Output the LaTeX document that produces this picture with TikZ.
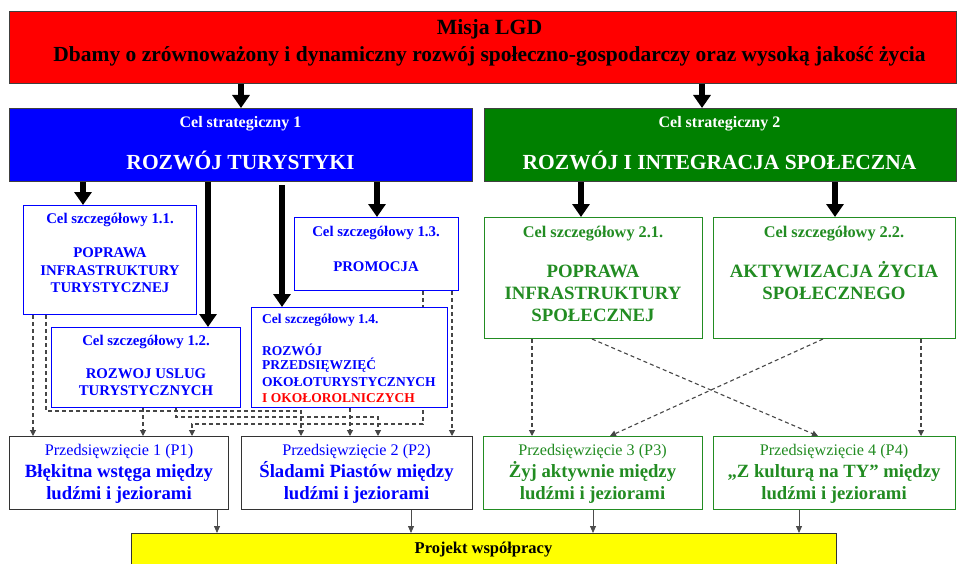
\documentclass[tikz,border=0pt]{standalone}
\usepackage{fontspec}
\setmainfont{Liberation Serif}
\usetikzlibrary{arrows.meta}
\definecolor{cblue}{RGB}{0,0,255}
\definecolor{cred}{RGB}{255,0,0}
\definecolor{cdgreen}{RGB}{0,128,0}
\definecolor{clgreen}{RGB}{34,140,34}
\definecolor{cyellow}{RGB}{255,255,0}
\definecolor{cdash}{RGB}{70,70,70}
\tikzset{
  boxbase/.style={anchor=north west, inner sep=0pt, line width=1pt},
  misbox/.style={boxbase, draw=black!75, fill=cred},
  bluebig/.style={boxbase, draw=black!75, fill=cblue},
  greenbig/.style={boxbase, draw=black!75, fill=cdgreen},
  bluebox/.style={boxbase, draw=cblue, fill=white},
  greenbox/.style={boxbase, draw=clgreen, fill=white},
  pbox/.style={boxbase, draw=black!80, fill=white},
  pgbox/.style={boxbase, draw=clgreen, fill=white},
  projbox/.style={boxbase, draw=black!80, fill=cyellow},
  txt/.style={anchor=base, inner sep=0pt, font=\bfseries},
  bigarrow/.style={line width=5.5pt, -{Triangle[length=13pt,width=17pt]}},
  dasharrow/.style={cdash, line width=1.1pt, dash pattern=on 4pt off 3pt, -{Triangle[length=6pt,width=6pt]}, draw=cdash},
  thinarrow/.style={black!70, line width=0.8pt, -{Triangle[length=7pt,width=6pt]}},
}
\newcommand{\bx}[7]{\node[#1, minimum width=#5pt-#3pt, minimum height=#6pt-#4pt] (#2) at (#3,#4) {#7};}
\begin{document}
\begin{tikzpicture}[x=1pt,y=-1pt]
\clip (0,0) rectangle (957,564);
\fill[white] (0,0) rectangle (957,564);
% mission
\bx{misbox}{mis}{9}{11}{956}{83}{}
\node[txt, font=\fontsize{21.7}{24}\selectfont\bfseries] (misa) at (489.5,35) {Misja LGD};
\node[txt, font=\fontsize{21.5}{24}\selectfont\bfseries] (misb) at (489.5,62) {Dbamy o zrównoważony i dynamiczny rozwój społeczno-gospodarczy oraz wysoką jakość życia};
% strategic goals
\bx{bluebig}{cs1}{9}{108}{472}{181}{}
\node[txt, white, font=\fontsize{16}{18}\selectfont\bfseries] (cs1a) at (240.5,128) {Cel strategiczny 1};
\node[txt, white, font=\fontsize{21.5}{24}\selectfont\bfseries] (cs1b) at (240.5,170) {ROZWÓJ TURYSTYKI};
\bx{greenbig}{cs2}{484}{108}{956}{181}{}
\node[txt, white, font=\fontsize{16}{18}\selectfont\bfseries] (cs2a) at (719.5,128) {Cel strategiczny 2};
\node[txt, white, font=\fontsize{21.5}{24}\selectfont\bfseries] (cs2b) at (719.5,170) {ROZWÓJ I INTEGRACJA SPOŁECZNA};
% detailed goals 1.x
\bx{bluebox}{c11}{23}{205}{196}{314}{}
\bx{bluebox}{c12}{51}{327}{240}{407}{}
\bx{bluebox}{c13}{294}{217}{458}{290}{}
\bx{greenbox}{c21}{484}{217}{702}{338}{}
\bx{greenbox}{c22}{713}{217}{955}{338}{}
% projects
\bx{pbox}{p1}{9}{436}{228}{509}{}
\bx{pbox}{p2}{241}{436}{472}{509}{}
\bx{pgbox}{p3}{483}{436}{702}{509}{}
\bx{pgbox}{p4}{713}{436}{955}{509}{}
\bx{projbox}{proj}{131}{533}{836}{580}{}
% dashed line passing behind 1.4
\draw[dasharrow] (423,0 |- c13.south) |- (192,424) -- (192,0 |- p1.north);
\bx{bluebox}{c14}{251}{307}{447}{407}{}
% texts 1.x
\begin{scope}[every node/.style={txt, cblue, font=\fontsize{14.8}{17}\selectfont\bfseries}]
\node (c11a) at (110,223) {Cel szczegółowy 1.1.};
\node (c11b) at (110,257) {POPRAWA};
\node (c11c) at (110,275) {INFRASTRUKTURY};
\node (c11d) at (110,292) {TURYSTYCZNEJ};
\node (c12a) at (146,345) {Cel szczegółowy 1.2.};
\node (c12b) at (146,378) {ROZWOJ USLUG};
\node (c12c) at (146,395) {TURYSTYCZNYCH};
\node (c13a) at (376,236) {Cel szczegółowy 1.3.};
\node (c13b) at (376,271) {PROMOCJA};
\end{scope}
\begin{scope}[every node/.style={txt, anchor=base west, cblue, font=\fontsize{13.5}{15}\selectfont\bfseries}]
\node (c14a) at (262,323) {Cel szczegółowy 1.4.};
\node (c14b) at (262,355) {ROZWÓJ};
\node (c14c) at (262,369) {PRZEDSIĘWZIĘĆ};
\node (c14d) at (262,386) {OKOŁOTURYSTYCZNYCH};
\node[cred] (c14e) at (262,402) {I OKOŁOROLNICZYCH};
\end{scope}
% texts 2.x
\begin{scope}[every node/.style={txt, clgreen, font=\fontsize{16.3}{18}\selectfont\bfseries}]
\node (c21a) at (593,237) {Cel szczegółowy 2.1.};
\node (c22a) at (834,237) {Cel szczegółowy 2.2.};
\end{scope}
\begin{scope}[every node/.style={txt, clgreen, font=\fontsize{18.8}{21}\selectfont\bfseries}]
\node (c21b) at (593,277) {POPRAWA};
\node (c21c) at (593,299) {INFRASTRUKTURY};
\node (c21d) at (593,321) {SPOŁECZNEJ};
\node (c22b) at (834,277) {AKTYWIZACJA ŻYCIA};
\node (c22c) at (834,299) {SPOŁECZNEGO};
\end{scope}
% project texts
\begin{scope}[every node/.style={txt, font=\fontsize{16.2}{18}\selectfont}]
\node[cblue] (p1a) at (119,455) {Przedsięwzięcie 1 (P1)};
\node[cblue] (p2a) at (356.5,455) {Przedsięwzięcie 2 (P2)};
\node[clgreen] (p3a) at (592.5,455) {Przedsięwzięcie 3 (P3)};
\node[clgreen] (p4a) at (834,455) {Przedsięwzięcie 4 (P4)};
\end{scope}
\begin{scope}[every node/.style={txt, font=\fontsize{18.7}{21}\selectfont\bfseries}]
\node[cblue] (p1b) at (119,477) {Błękitna wstęga między};
\node[cblue] (p1c) at (119,499) {ludźmi i jeziorami};
\node[cblue] (p2b) at (356.5,477) {Śladami Piastów między};
\node[cblue] (p2c) at (356.5,499) {ludźmi i jeziorami};
\node[clgreen] (p3b) at (592.5,477) {Żyj aktywnie między};
\node[clgreen] (p3c) at (592.5,499) {ludźmi i jeziorami};
\node[clgreen] (p4b) at (834,477) {„Z kulturą na TY” między};
\node[clgreen] (p4c) at (834,499) {ludźmi i jeziorami};
\end{scope}
\node[txt, font=\fontsize{16.5}{18}\selectfont\bfseries] (proja) at (483.5,553) {Projekt współpracy};
% big arrows
\draw[bigarrow] (241,0 |- mis.south) -- (241,0 |- cs1.north);
\draw[bigarrow] (702,0 |- mis.south) -- (702,0 |- cs2.north);
\draw[bigarrow] (83,0 |- cs1.south) -- (83,0 |- c11.north);
\draw[bigarrow] (208,0 |- cs1.south) -- (208,0 |- c12.north);
\draw[bigarrow] (282,185) -- (282,0 |- c14.north);
\draw[bigarrow] (377,0 |- cs1.south) -- (377,0 |- c13.north);
\draw[bigarrow] (581,0 |- cs2.south) -- (581,0 |- c21.north);
\draw[bigarrow] (835,0 |- cs2.south) -- (835,0 |- c22.north);
% dashed connectors left
\draw[dasharrow] (33,0 |- c11.south) -- (33,0 |- p1.north);
\draw[dasharrow] (46,0 |- c11.south) |- (301,411) -- (301,0 |- p2.north);
\draw[dasharrow] (143,0 |- c12.south) -- (143,0 |- p1.north);
\draw[dasharrow] (176,0 |- c12.south) |- (378,417) -- (378,0 |- p2.north);
\draw[dasharrow] (452,0 |- c13.south) -- (452,0 |- p2.north);
\draw[dasharrow] (350,0 |- c14.south) -- (350,0 |- p2.north);
% dashed connectors right
\draw[dasharrow] (532,0 |- c21.south) -- (532,0 |- p3.north);
\draw[dasharrow] (592,0 |- c21.south) -- (818,0 |- p4.north);
\draw[dasharrow] (823,0 |- c22.south) -- (610,0 |- p3.north);
\draw[dasharrow] (921,0 |- c22.south) -- (921,0 |- p4.north);
% thin arrows to project
\draw[thinarrow] (217,0 |- p1.south) -- (217,0 |- proj.north);
\draw[thinarrow] (411,0 |- p2.south) -- (411,0 |- proj.north);
\draw[thinarrow] (593,0 |- p3.south) -- (593,0 |- proj.north);
\draw[thinarrow] (799,0 |- p4.south) -- (799,0 |- proj.north);
\end{tikzpicture}
\end{document}
